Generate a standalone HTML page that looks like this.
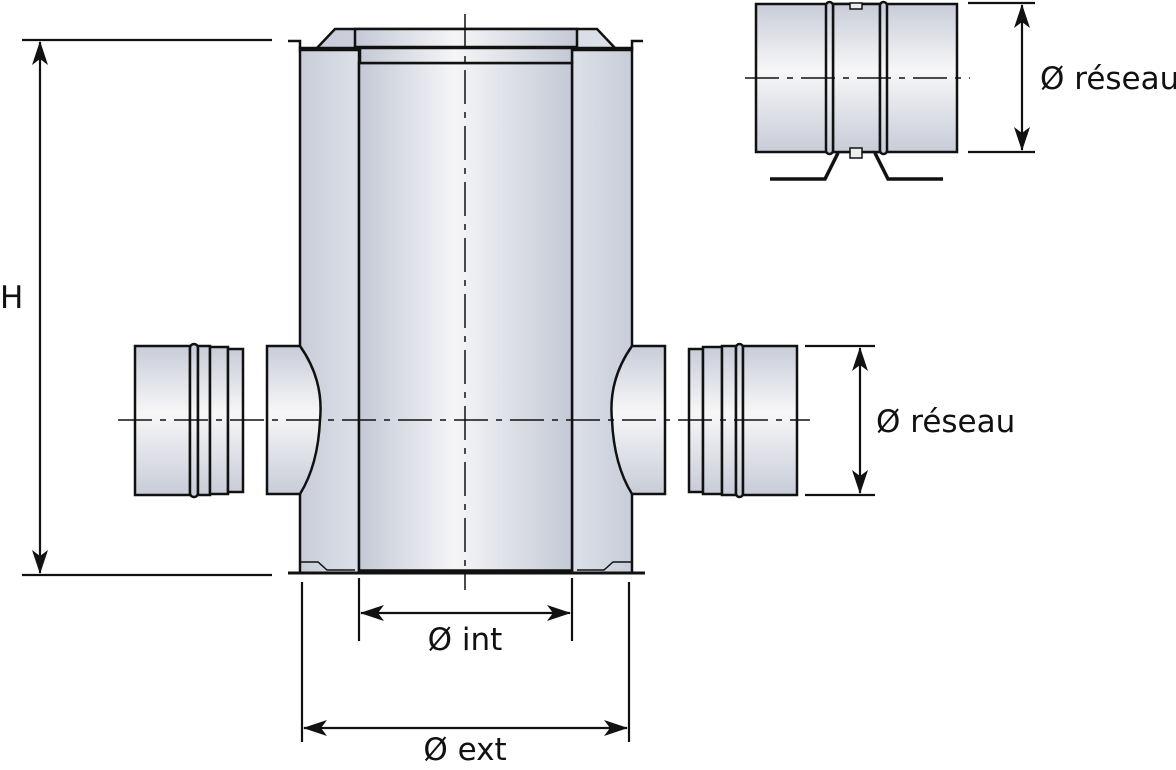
<!DOCTYPE html>
<html><head><meta charset="utf-8"><style>
html,body{margin:0;padding:0;background:#fff;}
svg{display:block}
text{font-family:"DejaVu Sans","Liberation Sans",sans-serif;fill:#111;}
</style></head><body>
<svg width="1176" height="770" viewBox="0 0 1176 770" xmlns="http://www.w3.org/2000/svg">
<defs>
<linearGradient id="hv" x1="0" y1="0" x2="1" y2="0">
<stop offset="0" stop-color="#c4c9d6"/><stop offset="0.45" stop-color="#f5f5f7"/><stop offset="1" stop-color="#c4c9d6"/></linearGradient>
<linearGradient id="ho" x1="0" y1="0" x2="1" y2="0">
<stop offset="0" stop-color="#c8cdd9"/><stop offset="1" stop-color="#dde0e8"/></linearGradient>
<linearGradient id="ho2" x1="0" y1="0" x2="1" y2="0">
<stop offset="0" stop-color="#dde0e8"/><stop offset="1" stop-color="#c8cdd9"/></linearGradient>
<linearGradient id="vv" x1="0" y1="0" x2="0" y2="1">
<stop offset="0" stop-color="#c8ccd8"/><stop offset="0.45" stop-color="#f7f7f8"/><stop offset="1" stop-color="#c8ccd8"/></linearGradient>
<marker id="ar" viewBox="0 0 24 16" refX="23" refY="8" markerWidth="24" markerHeight="16" markerUnits="userSpaceOnUse" orient="auto-start-reverse">
<path d="M0,0 L24,8 L0,16 L6,8 Z" fill="#111"/></marker>
</defs>

<g stroke="#111" stroke-width="2.5">
<rect x="300" y="48" width="59" height="525" fill="url(#ho)"/>
<rect x="572" y="48" width="60" height="525" fill="url(#ho2)"/>
<rect x="359" y="63" width="213" height="508" fill="url(#hv)"/>
<path d="M288,41 H300 V50 H632 V41 H643" fill="none"/>
<path d="M317,48 L335,29 H597 L615,48 Z" fill="url(#ho)"/>
<rect x="355" y="29" width="222" height="18" fill="url(#hv)"/>
<rect x="360" y="48" width="212" height="15" fill="url(#hv)"/>
<path d="M288,573 H645" stroke-width="3"/>
<path d="M301,562 H318 L327,570 H355 M577,570 H604 L613,562 H631" fill="none" stroke-width="1.5"/>
<path d="M359,570 H572" stroke-width="1.5"/>
<path d="M267,346 H300 Q324,380 320,420 Q318,465 300,494 H267 Z" fill="url(#vv)"/>
<rect x="135" y="346" width="55" height="149" fill="url(#vv)"/>
<rect x="190" y="344" width="8" height="153" rx="4" fill="url(#vv)"/>
<rect x="198" y="346" width="12" height="149" fill="url(#vv)"/>
<rect x="210" y="347" width="18" height="147" fill="url(#vv)"/>
<rect x="228" y="349" width="15" height="143" fill="url(#vv)"/>
<path d="M665,346 H632 Q608,380 612,420 Q614,465 632,494 H665 Z" fill="url(#vv)"/>
<rect x="689" y="349" width="14" height="143" fill="url(#vv)"/>
<rect x="703" y="347" width="19" height="147" fill="url(#vv)"/>
<rect x="722" y="346" width="14" height="149" fill="url(#vv)"/>
<rect x="736" y="344" width="7" height="153" rx="3.5" fill="url(#vv)"/>
<rect x="743" y="346" width="54" height="149" fill="url(#vv)"/>
<rect x="756" y="4" width="201" height="148" fill="url(#vv)"/>
<rect x="833" y="4" width="47" height="148" fill="url(#vv)"/>
<rect x="826" y="2" width="7" height="152" rx="3.5" fill="url(#vv)"/>
<rect x="880" y="2" width="7" height="152" rx="3.5" fill="url(#vv)"/>
<rect x="850" y="3" width="12" height="6" fill="#eee" stroke-width="1.5"/>
<rect x="850" y="148" width="12" height="10" fill="#eee" stroke-width="1.5"/>
<path d="M770,179 H825 L838,153 M875,153 L888,179 H943" fill="none" stroke-width="3.5"/>
</g>

<g stroke="#111" stroke-width="1.5" stroke-dasharray="34,8,6,8" fill="none">
<path d="M465,14 V590"/>
<path d="M118,420 H810"/>
<path d="M745,78 H970"/>
</g>

<g stroke="#111" stroke-width="2.2" fill="none">
<path d="M22,40 H272 M22,575 H272"/>
<path d="M40,42 V573" marker-start="url(#ar)" marker-end="url(#ar)"/>
<path d="M805,346 H875 M805,495 H875"/>
<path d="M860,348 V493" marker-start="url(#ar)" marker-end="url(#ar)"/>
<path d="M968,3 H1035 M968,152 H1035"/>
<path d="M1022,5 V150" marker-start="url(#ar)" marker-end="url(#ar)"/>
<path d="M359,578 V641 M572,578 V641"/>
<path d="M361,613 H570" marker-start="url(#ar)" marker-end="url(#ar)"/>
<path d="M302,582 V742 M629,582 V742"/>
<path d="M304,728 H627" marker-start="url(#ar)" marker-end="url(#ar)"/>
</g>

<text x="0" y="308" font-size="31">H</text>
<text x="876" y="432" font-size="31">Ø réseau</text>
<text x="1040" y="89" font-size="31">Ø réseau</text>
<text x="465" y="650" font-size="31" text-anchor="middle">Ø int</text>
<text x="465" y="760" font-size="31" text-anchor="middle">Ø ext</text>
</svg>
</body></html>
